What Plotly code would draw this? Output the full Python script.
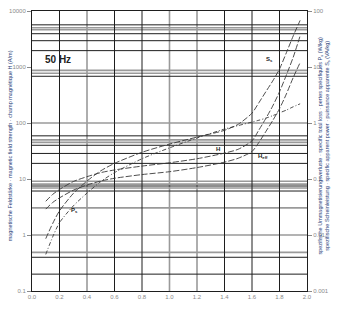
import math
import plotly.graph_objects as go

# ---- data ----
B = [0.1, 0.15, 0.2, 0.3, 0.4, 0.5, 0.6, 0.8, 1.0, 1.2, 1.4, 1.5, 1.6, 1.65, 1.7, 1.75, 1.8, 1.85, 1.9, 1.95]
H = [4.0, 5.3, 6.5, 9.0, 11.0, 13.0, 14.5, 17.0, 19.5, 23.0, 29.0, 34.0, 48.0, 75.0, 120.0, 200.0, 360.0, 720.0, 1500.0, 3600.0]
H_eff = [2.9, 3.8, 4.6, 6.3, 7.8, 9.2, 10.3, 12.0, 13.5, 16.0, 20.0, 23.5, 31.0, 45.0, 70.0, 110.0, 180.0, 330.0, 650.0, 1200.0]
P_s = [0.0045, 0.0092, 0.0166, 0.033, 0.056, 0.09, 0.13, 0.23, 0.36, 0.54, 0.78, 0.9, 1.04, 1.12, 1.22, 1.35, 1.52, 1.7, 1.95, 2.2]
S_s = [0.0086, 0.016, 0.027, 0.055, 0.092, 0.14, 0.19, 0.30, 0.42, 0.56, 0.74, 0.95, 1.5, 2.3, 3.6, 5.6, 9.2, 18.0, 36.0, 68.0]

x_ticks = [0.0, 0.2, 0.4, 0.6, 0.8, 1.0, 1.2, 1.4, 1.6, 1.8, 2.0]
x_tick_text = ["0.0", "0.2", "0.4", "0.6", "0.8", "1.0", "1.2", "1.4", "1.6", "1.8", "2.0"]
y_left_ticks = [0.1, 1, 10, 100, 1000, 10000]
y_left_text = ["0.1", "1", "10", "100", "1000", "10000"]
y_right_ticks = [0.001, 0.01, 0.1, 1, 10, 100]
y_right_text = ["0.001", "0.01", "0.1", "1", "10", "100"]

vgrid_dark = [0.2, 0.6, 0.8, 1.4, 1.6, 1.8]
vgrid_gray = [0.4, 1.0, 1.2]
hgrid_dark = [5660, 3930, 2950, 1960, 683, 59, 40, 28.6, 19.0, 7.5, 6.1, 0.4, 0.2]
hgrid_gray = [5010, 4620, 870, 771, 100, 50, 45, 9.1, 8.1, 6.9, 3.05, 1.0, 0.49]

fig = go.Figure()

def grid_trace(xs, ys, color, width):
    return go.Scatter(x=xs, y=ys, mode="lines", line=dict(color=color, width=width),
                      hoverinfo="skip", showlegend=False)

gx, gy = [], []
for v in hgrid_gray:
    gx += [0, 2, None]; gy += [v, v, None]
for v in vgrid_gray:
    gx += [v, v, None]; gy += [0.1, 10000, None]
fig.add_trace(grid_trace(gx, gy, "#9a9a9a", 1.6))

dx, dy = [], []
for v in hgrid_dark:
    dx += [0, 2, None]; dy += [v, v, None]
for v in vgrid_dark:
    dx += [v, v, None]; dy += [0.1, 10000, None]
fig.add_trace(grid_trace(dx, dy, "#1e1e1e", 1.0))

curve_line = dict(color="#3a3a3a", width=0.9, dash="6px,2px", shape="spline", smoothing=0.7)
fig.add_trace(go.Scatter(x=B, y=H, mode="lines", line=curve_line, name="H", yaxis="y"))
fig.add_trace(go.Scatter(x=B, y=H_eff, mode="lines", line=curve_line, name="H_eff", yaxis="y"))
fig.add_trace(go.Scatter(x=B, y=P_s, mode="lines", line=dict(curve_line, dash="4px,2px,1px,2px"),
                         name="P_s", yaxis="y2"))
fig.add_trace(go.Scatter(x=B, y=S_s, mode="lines", line=curve_line, name="S_s", yaxis="y2"))

lab_font = dict(family="Arial, Liberation Sans, sans-serif", size=6, color="#222")
ann = [
    dict(x=0.19, y=math.log10(1360), text="<b>50 Hz</b>",
         font=dict(family="Arial, Liberation Sans, sans-serif", size=10, color="#222")),
    dict(x=0.31, y=math.log10(2.7), text="<b>P<sub>s</sub></b>", font=lab_font),
    dict(x=1.35, y=math.log10(35), text="<b>H</b>", font=lab_font),
    dict(x=1.68, y=math.log10(25), text="<b>H<sub>eff</sub></b>", font=lab_font),
    dict(x=1.73, y=math.log10(1360), text="<b>S<sub>s</sub></b>", font=lab_font),
]
for a in ann:
    a.update(xref="x", yref="y", showarrow=False)
    fig.add_annotation(**a)

title_font = dict(family="Arial, Liberation Sans, sans-serif", size=5.5, color="#2b3f7a")
fig.add_annotation(xref="paper", yref="paper", x=-0.095, y=0.52, textangle=-90, showarrow=False,
                   text="magnetische Feldstärke · magnetic field strength · champ magnétique H (A/m)",
                   font=title_font)
fig.add_annotation(xref="paper", yref="paper", x=1.095, y=0.52, textangle=-90, showarrow=False,
                   text="spezifische Ummagnetisierungsverluste · specific total loss · pertes spécifiques P<sub>s</sub> (W/kg)<br>"
                        "spezifische Scheinleistung · specific apparent power · puissance apparente S<sub>s</sub> (VA/kg)",
                   font=title_font)

tick_font = dict(family="Arial, Liberation Sans, sans-serif", size=6, color="#8a8a8a")
fig.update_layout(
    width=343, height=311,
    margin=dict(l=32, r=36, t=8, b=20),
    paper_bgcolor="white", plot_bgcolor="white",
    showlegend=False,
    xaxis=dict(range=[0, 2], tickvals=x_ticks, ticktext=x_tick_text, showgrid=False,
               zeroline=False, showline=True, linecolor="#1e1e1e", linewidth=1, mirror=True,
               tickfont=tick_font, ticks="", fixedrange=True),
    yaxis=dict(type="log", range=[-1, 4], tickvals=y_left_ticks, ticktext=y_left_text,
               showgrid=False, zeroline=False, showline=True, linecolor="#1e1e1e", linewidth=1,
               mirror=True, ticks="outside", ticklen=4, tickcolor="#8a8a8a", tickfont=tick_font),
    yaxis2=dict(type="log", range=[-3, 2], tickvals=y_right_ticks, ticktext=y_right_text,
                overlaying="y", side="right", showgrid=False, zeroline=False,
                ticks="outside", ticklen=4, tickcolor="#8a8a8a", tickfont=tick_font),
)

fig.write_html("out.html")
